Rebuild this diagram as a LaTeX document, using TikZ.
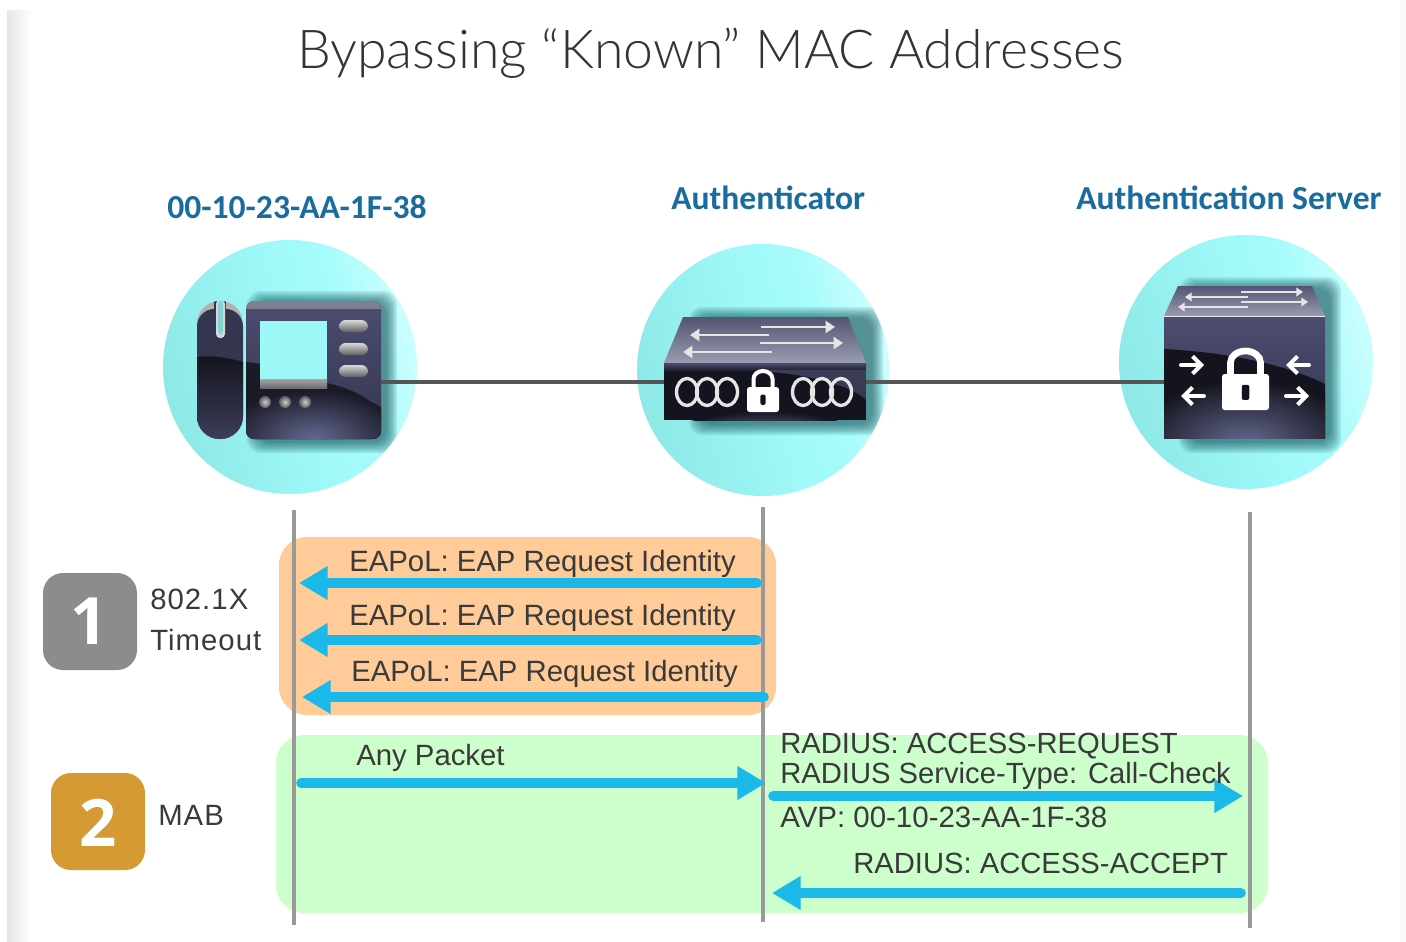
\documentclass[tikz,border=0pt]{standalone}
\usepackage{fontspec}
\usetikzlibrary{arrows.meta,calc}
\setmainfont{Liberation Sans}
\newfontfamily\spacedfont{Liberation Sans}[LetterSpace=3.5]
\newfontfamily\labfont{Carlito}
\newfontfamily\numfont{Open Sans}
\newfontfamily\titlefont{Lato}[UprightFont=* Light]
\definecolor{cyanarrow}{HTML}{1BB9EA}
\definecolor{panelorange}{HTML}{FFCC99}
\definecolor{panelgreen}{HTML}{CCFFCC}
\definecolor{lifegray}{HTML}{999999}
\definecolor{wire}{HTML}{555555}
\definecolor{labblue}{HTML}{1A6C9E}
\definecolor{txt}{HTML}{3A3A3A}
\definecolor{bodytop}{HTML}{4C4D70}
\definecolor{bodymid}{HTML}{34354F}
\definecolor{bodydark}{HTML}{14141E}
\definecolor{bodyglow}{HTML}{666A92}
\definecolor{topgray}{HTML}{9A9CB0}
\definecolor{discA}{HTML}{8DE8E6}
\definecolor{discB}{HTML}{9FF8F8}
\definecolor{discC}{HTML}{A6FBFB}
\definecolor{discD}{HTML}{CCFEFE}
\definecolor{badgegray}{HTML}{8C8C8E}
\definecolor{badgegold}{HTML}{D69A35}
\definecolor{striptop}{HTML}{7D8090}
\definecolor{shadowteal}{HTML}{0A4A50}
\pgfdeclarehorizontalshading{discshade}{100bp}{color(0bp)=(discA);color(25bp)=(discA);color(50bp)=(discB);color(62bp)=(discC);color(75bp)=(discD);color(100bp)=(discD)}
\tikzset{
  x=0.75pt,y=-0.75pt,
  disc/.style={draw=none,shading=discshade,shading angle=15},
  lifeline/.style={draw=lifegray,line width=3.6pt},
  msg/.style={draw=cyanarrow,line width=7.2pt,line cap=round,
    -{Triangle[length=21.5pt,width=24pt,fill=cyanarrow]}},
  wireline/.style={draw=wire,line width=3.6pt},
  panel/.style={draw=none,rounded corners=21pt},
  badge/.style={draw=none,rounded corners=15pt},
  msgtext/.style={anchor=base west,inner sep=0pt,text=txt,font=\fontsize{22}{26}\selectfont},
  sidetext/.style={anchor=base west,inner sep=0pt,text=txt,font=\spacedfont\fontsize{22}{26}\selectfont},
  headtext/.style={anchor=base west,inner sep=0pt,text=labblue,font=\labfont\bfseries\fontsize{25.2}{28}\selectfont},
  badgenum/.style={anchor=center,inner sep=0pt,text=white,font=\numfont\bfseries\fontsize{49}{52}\selectfont},
  whitearrow/.style={draw=white!80!gray,line width=2.1pt,-{Triangle[length=7pt,width=9pt]}},
  whitesmall/.style={draw=white!80!gray,line width=1.6pt,-{Triangle[length=5pt,width=6.5pt]}},
  iconarrow/.style={draw=white,line width=3pt,line cap=round,-{Straight Barb[length=6.5pt,width=13pt,line width=3pt]}},
  ring/.style={draw=white!80!gray,line width=2.5pt},
}
% soft shadow of an icon, kept inside its disc: #1-#4 box, #5,#6,#7 disc
\newcommand{\softshadow}[7]{%
  \begin{scope}
  \clip (#5,#6) circle[radius=#7];
  \foreach \g in {11,9.5,8,6.5,5,3.5,2,0.5}{%
    \fill[shadowteal,opacity=0.1,rounded corners=10pt]
      ({#1-\g},{#2-\g}) rectangle ({#3+\g},{#4+\g});}
  \end{scope}}
% padlock: #1 centre x, #2 shackle top y, #3 body top y, #4 body bottom y, #5 half width, #6 shackle half width, #7 line width
\newcommand{\padlock}[7]{%
  \draw[white,line width=#7] ({#1-#6},#3) -- ({#1-#6},{(#2+#3)/2}) arc[start angle=180,end angle=360,x radius=#6,y radius={(#3-#2)/2}] -- ({#1+#6},#3);
  \fill[white,rounded corners=2pt] ({#1-#5},#3) rectangle ({#1+#5},#4);
  \fill[bodydark,rounded corners=1.5pt] ({#1-0.16*#5},{#3+0.3*(#4-#3)}) rectangle ({#1+0.16*#5},{#3+0.72*(#4-#3)});}
\begin{document}
\begin{tikzpicture}
\useasboundingbox (0,0) rectangle (1406,942);
\fill[white] (0,0) rectangle (1406,942);
\shade[left color=black!10,right color=white] (7,11) rectangle (32,942);
\fill[black!2] (1400,0) rectangle (1406,942);

% title
\node[anchor=base west,inner sep=0pt,text=txt!90!black,font=\titlefont\fontsize{40.2}{46}\selectfont] (title) at (297,69) {Bypassing “Known” MAC Addresses};

% headings
\node[headtext] (hphone) at (167,218) {00-10-23-AA-1F-38};
\node[headtext] (hauth) at (671,209) {Authenticator};
\node[headtext] (hsrv) at (1076,209) {Authentication Server};

% discs
\path[disc] (290,367) circle[radius=127];
\path[disc] (763,370) circle[radius=126];
\path[disc] (1246,362) circle[radius=127];

% anchors of the wires
\coordinate (phoneR) at (378,382);
\coordinate (authL) at (668,382);
\coordinate (authR) at (862,382);
\coordinate (srvL) at (1167,382);

% ---------- shadows, wires ----------
\softshadow{258}{302}{386}{442}{290}{367}{127}
\softshadow{700}{318}{872}{424}{763}{370}{126}
\softshadow{1190}{288}{1330}{442}{1246}{362}{127}
\draw[wireline] (phoneR) -- (authL);
\draw[wireline] (authR) -- (srvL);

% ---------- phone ----------
\begin{scope}
  \clip[rounded corners=6pt] (246,301) rectangle (381,439);
  \shade[top color=bodytop,bottom color=bodymid] (246,301) rectangle (381,439);
  \fill[striptop] (246,301) rectangle (381,309);
  \fill[bodydark!80!bodymid] (246,362) -- (262,364) -- (327,380) -- (327,383) .. controls (350,388) and (370,398) .. (381,412) -- (381,439) -- (246,439) -- cycle;
  \shade[inner color=bodyglow,outer color=bodydark!80!bodymid] (313,440) ellipse[x radius=90,y radius=50];
\end{scope}
\fill[discB] (260,321) rectangle (327,379);
\shade[top color=gray!70,bottom color=gray!85!black] (260,379) rectangle (327,388);
\foreach \by in {326,349,371}{
  \shade[top color=gray!30,bottom color=gray!75!black,rounded corners=5pt] (339,\by-6) rectangle (368,\by+6);
}
\foreach \dx in {265,285,305}{
  \shade[inner color=gray!40,outer color=gray!70!black] (\dx,402) circle[radius=6];
}
% handset
\begin{scope}
  \clip[rounded corners=17pt] (197,301) rectangle (243,439);
  \fill[gray!60] (197,301) rectangle (243,330);
  \fill[bodymid,rounded corners=13pt] (197,309) rectangle (243,460);
  \shade[top color=bodydark,bottom color=bodytop!80!black] (197,357) .. controls (212,355) and (230,358) .. (243,362) -- (243,439) -- (197,439) -- cycle;
  \fill[bodymid] (214,301) rectangle (226,336);
  \fill[gray!30,rounded corners=3pt] (216,300) rectangle (225,338);
  \fill[discB!85!black,rounded corners=3pt] (218,300) rectangle (223,335);
\end{scope}

% ---------- authenticator ----------
\shade[top color=bodytop!85!gray,bottom color=topgray] (683,317) -- (848,317) -- (866,363) -- (664,363) -- cycle;
\begin{scope}
  \clip (664,363) rectangle (866,420);
  \fill[bodydark] (664,363) rectangle (866,420);
  \shade[top color=bodytop,bottom color=bodydark] (664,363) rectangle (866,372);
  \shade[top color=bodytop!80!black,bottom color=bodymid] (770,372) .. controls (810,375) and (850,385) .. (866,400) -- (866,370) -- (770,370) -- cycle;
  \shade[inner color=bodyglow,outer color=bodydark] (765,435) ellipse[x radius=90,y radius=24];
\end{scope}
\coordinate (a1a) at (761,327); \coordinate (a1b) at (835,327);
\coordinate (a2a) at (769,335); \coordinate (a2b) at (690,335);
\coordinate (a3a) at (760,343); \coordinate (a3b) at (843,343);
\coordinate (a4a) at (772,352); \coordinate (a4b) at (683,352);
\draw[whitearrow] (a1a) -- (a1b);
\draw[whitearrow] (a2a) -- (a2b);
\draw[whitearrow] (a3a) -- (a3b);
\draw[whitearrow] (a4a) -- (a4b);
\foreach \cx in {687,707,727,803,822,841}{
  \draw[ring] (\cx,392) ellipse[x radius=10.5,y radius=13.5];
}
\padlock{763}{371}{387}{412}{16}{9.5}{3pt}

% ---------- server ----------
\shade[top color=bodytop!85!gray,bottom color=topgray] (1178,286) -- (1312,286) -- (1325,316) -- (1164,316) -- cycle;
\begin{scope}
  \clip (1164,316) rectangle (1325,438);
  \shade[top color=bodytop,bottom color=bodymid] (1164,316) rectangle (1325,438);
  \fill[bodydark] (1164,349) .. controls (1220,352) and (1280,362) .. (1325,384) -- (1325,438) -- (1164,438) -- cycle;
  \shade[inner color=bodyglow,outer color=bodydark] (1245,445) ellipse[x radius=115,y radius=65];
\end{scope}
\draw[white!85!gray,line width=0.6pt] (1164,316) -- (1325,316);
\draw[whitesmall] (1241,292) -- (1303,292);
\draw[whitesmall] (1248,297) -- (1185,297);
\draw[whitesmall] (1241,302) -- (1308,302);
\draw[whitesmall] (1248,307) -- (1178,307);
\padlock{1245.5}{351}{374}{410}{23.5}{15}{5pt}
\draw[iconarrow] (1181,365) -- (1204,365);
\draw[iconarrow] (1204,396) -- (1181,396);
\draw[iconarrow] (1309,365) -- (1286,365);
\draw[iconarrow] (1286,396) -- (1309,396);

% ---------- panels ----------
\fill[panel,panelorange] (279,537) rectangle (776,715);
\fill[panel,panelgreen] (276,735) rectangle (1268,913);

% ---------- lifelines ----------
\coordinate (l1t) at (294,510); \coordinate (l1b) at (294,925);
\coordinate (l2t) at (763,507); \coordinate (l2b) at (763,922);
\coordinate (l3t) at (1250,512); \coordinate (l3b) at (1250,928);
\draw[lifeline] (l1t) -- (l1b);
\draw[lifeline] (l2t) -- (l2b);
\draw[lifeline] (l3t) -- (l3b);

% ---------- messages ----------
\coordinate (m1a) at (757,583); \coordinate (m1b) at (299,583);
\coordinate (m2a) at (757,640); \coordinate (m2b) at (299,640);
\coordinate (m3a) at (764,697); \coordinate (m3b) at (302,697);
\coordinate (m4a) at (301,783); \coordinate (m4b) at (766,783);
\coordinate (m5a) at (773,796); \coordinate (m5b) at (1243,796);
\coordinate (m6a) at (1241,893); \coordinate (m6b) at (772,893);
\draw[msg] (m1a) -- (m1b);
\draw[msg] (m2a) -- (m2b);
\draw[msg] (m3a) -- (m3b);
\draw[msg] (m4a) -- (m4b);
\draw[msg] (m5a) -- (m5b);
\draw[msg] (m6a) -- (m6b);

\node[msgtext] (t1) at (349,571) {EAPoL: EAP Request Identity};
\node[msgtext] (t2) at (349,625) {EAPoL: EAP Request Identity};
\node[msgtext] (t3) at (351,681) {EAPoL: EAP Request Identity};
\node[msgtext] (t4) at (356,765) {Any Packet};
\node[msgtext,font=\fontsize{21.9}{26}\selectfont] (t5) at (780,753) {RADIUS: ACCESS-REQUEST};
\node[msgtext,font=\fontsize{21.9}{26}\selectfont] (t6) at (780,783) {RADIUS Service-Type: Call-Check};
\node[msgtext,font=\fontsize{22.1}{26}\selectfont] (t7) at (780,827) {AVP: 00-10-23-AA-1F-38};
\node[msgtext,font=\fontsize{21.9}{26}\selectfont] (t8) at (853,873) {RADIUS: ACCESS-ACCEPT};

% ---------- badges ----------
\fill[badge,fill=badgegray] (43,573) rectangle (137,670);
\node[badgenum] (n1) at (89,621) {1};
\node[sidetext] (b1a) at (150,609) {802.1X};
\node[sidetext] (b1b) at (150,650) {Timeout};
\fill[badge,fill=badgegold] (51,773) rectangle (145,870);
\node[badgenum] (n2) at (98,823) {2};
\node[sidetext] (b2) at (158,825) {MAB};
\end{tikzpicture}
\end{document}
